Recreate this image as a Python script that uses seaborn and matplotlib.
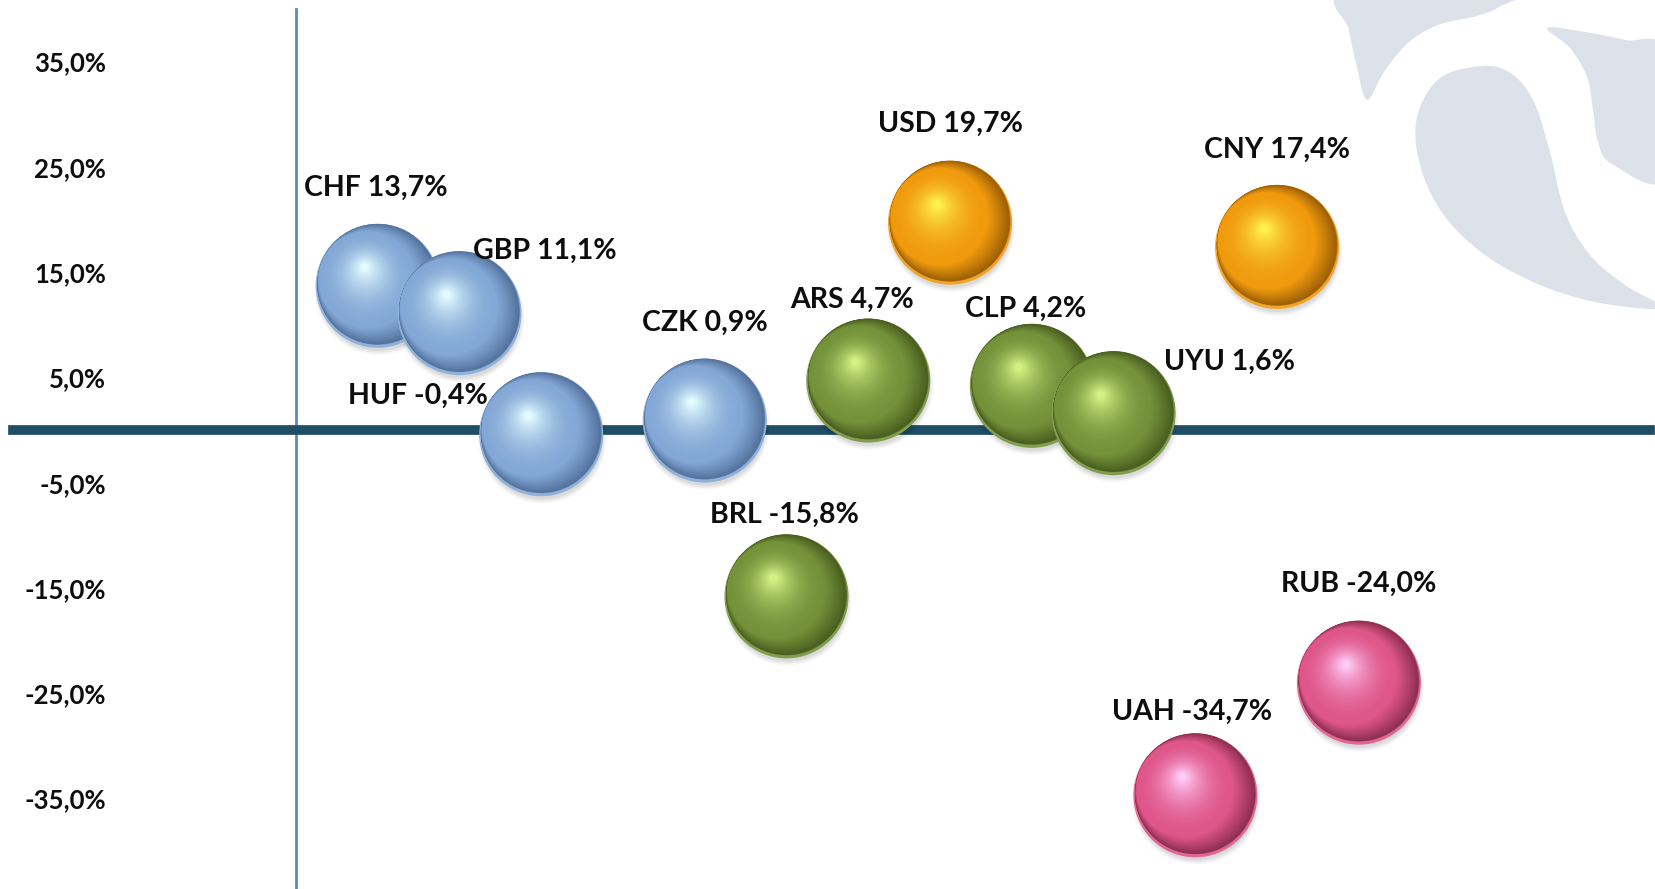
import numpy as np
import pandas as pd
import matplotlib
matplotlib.use("Agg")
import matplotlib.pyplot as plt
import matplotlib.colors as mcolors
from matplotlib.transforms import offset_copy
from matplotlib.patches import Polygon
import seaborn as sns

# data
currencies = ["CHF", "GBP", "HUF", "CZK", "BRL", "ARS", "USD", "CLP", "UYU", "UAH", "CNY", "RUB"]
x_pos = [1, 2, 3, 5, 6, 7, 8, 9, 10, 11, 12, 13]
change = [13.7, 11.1, -0.4, 0.9, -15.8, 4.7, 19.7, 4.2, 1.6, -34.7, 17.4, -24.0]
group = ["eur", "eur", "eur", "eur", "lat", "lat", "maj", "lat", "lat", "cis", "maj", "cis"]
y_ticks = [-35, -25, -15, -5, 5, 15, 25, 35]

# label placement (pixels from bubble centre)
label_offsets = {
    "CHF": (-2, 98), "GBP": (85, 62), "HUF": (-123, 38), "CZK": (0, 98),
    "BRL": (-2, 82), "ARS": (-16, 81), "USD": (0, 99), "CLP": (-6, 77),
    "UYU": (116, 51), "CNY": (0, 97), "UAH": (-3, 83), "RUB": (0, 99),
}

# sphere colours: dark edge, base, highlight
sphere_cols = {
    "eur": ("#34527a", "#84a8d6", "#e2fbff"),
    "lat": ("#2e3d10", "#74923a", "#d2f284"),
    "maj": ("#6a3c00", "#f09a0e", "#fff24c"),
    "cis": ("#5a172c", "#df5689", "#ffcaf6"),
}

df = pd.DataFrame({"cur": currencies, "x": x_pos, "y": change, "group": group})

W, H, DPI = 1655, 889, 100
sns.set_style("white")
plt.rcParams["font.family"] = ["Lato", "DejaVu Sans"]

fig = plt.figure(figsize=(W / DPI, H / DPI), dpi=DPI)
ax = fig.add_axes([13 / W, 0, (1650 - 13) / W, (H - 9) / H])
ax.set_facecolor("none")


# background watermark shapes (figure pixels, y from top)
def smooth(pts, n=14):
    pts = np.asarray(pts, float)
    P = np.vstack([pts[-1], pts, pts[0], pts[1]])
    out = []
    for i in range(1, len(P) - 2):
        p0, p1, p2, p3 = P[i - 1], P[i], P[i + 1], P[i + 2]
        for t in np.linspace(0, 1, n, endpoint=False):
            out.append(0.5 * (2 * p1 + (-p0 + p2) * t + (2 * p0 - 5 * p1 + 4 * p2 - p3) * t ** 2
                              + (-p0 + 3 * p1 - 3 * p2 + p3) * t ** 3))
    out = np.array(out)
    return np.column_stack([out[:, 0] / W, 1 - out[:, 1] / H])


shapes = [
    [(1345, -8), (1349, 30), (1357, 67), (1367, 100), (1384, 72), (1408, 43), (1438, 25),
     (1477, 16), (1499, 7), (1512, -8)],
    [(1483, 66), (1512, 74), (1534, 102), (1550, 152), (1565, 212), (1590, 255), (1625, 285),
     (1662, 308), (1600, 303), (1540, 285), (1485, 255), (1443, 214), (1420, 165), (1417, 117),
     (1440, 78)],
    [(1547, 28), (1585, 32), (1625, 40), (1665, 52), (1665, 178), (1612, 164), (1598, 142),
     (1593, 110), (1587, 77), (1570, 48)],
]
for s in shapes:
    fig.add_artist(Polygon(smooth(s), closed=True, transform=fig.transFigure,
                           facecolor="#dde2ea", edgecolor="none", zorder=-5))

R = 62  # bubble radius in px
S = (2 * R * 72 / DPI) ** 2

# soft shadows under the spheres
for k, a in enumerate([0.04, 0.05, 0.06]):
    sns.scatterplot(data=df, x="x", y="y", s=S * (1.03 - 0.03 * k) ** 2, color="#000000",
                    alpha=a, edgecolor="none", legend=False, ax=ax, zorder=3,
                    transform=offset_copy(ax.transData, fig=fig, x=1, y=-5, units="dots"))


def mix(a, b, t):
    a, b = np.array(mcolors.to_rgb(a)), np.array(mcolors.to_rgb(b))
    return tuple(a + (b - a) * t)


def draw_layer(xv, yv, f, ox, oy, c):
    tr = offset_copy(ax.transData, fig=fig, x=ox * R, y=oy * R, units="dots")
    ax.scatter(xv, yv, s=S * f * f, color=c, edgecolors="none", zorder=4, transform=tr)


NA, NB = 30, 30
for _, row in df.iterrows():
    dark, base, light = sphere_cols[row.group]
    rim = mix(base, "#ffffff", 0.1)
    draw_layer(row.x, row.y, 1.0, 0, 0, rim)
    # dark terminator towards lower right, fading to base colour
    for k in range(NA):
        t = k / (NA - 1)
        f = 0.975 - 0.195 * t
        c = mix(mix(dark, base, 0.35), base, t ** 0.9) if t > 0 else mix(rim, dark, 0.5)
        draw_layer(row.x, row.y, f, -0.17 * t, 0.025 + 0.075 * t, c)
    # soft highlight upper left
    for k in range(1, NB):
        t = k / (NB - 1)
        f = 0.78 - 0.72 * t
        draw_layer(row.x, row.y, f, -0.17 - 0.04 * t, 0.10 + 0.20 * t,
                   mix(base, light, t ** 2.0))

# data labels
for _, row in df.iterrows():
    dx, dy = label_offsets[row.cur]
    txt = f"{row.cur} {row.y:.1f}%".replace(".", ",")
    ax.annotate(txt, (row.x, row.y), xytext=(dx * 0.72, dy * 0.72), textcoords="offset points",
                ha="center", va="center", fontsize=20.5, fontweight="bold", color="#0d0d0d",
                zorder=10)

# axes
ax.set_xlim(-3.46, 16.56)
ax.set_ylim(-43.6, 40)
ax.set_xlabel("")
ax.set_ylabel("")
for side in ["top", "right"]:
    ax.spines[side].set_visible(False)
ax.spines["left"].set_position(("data", 0))
ax.spines["left"].set_color("#5a8ac6")
ax.spines["left"].set_linewidth(2)
ax.spines["bottom"].set_position(("data", 0))
ax.spines["bottom"].set_color("#1f4e66")
ax.spines["bottom"].set_linewidth(7)
ax.set_xticks([])
ax.set_yticks(y_ticks)
ax.set_yticklabels([f"{v:.1f}%".replace(".", ",") for v in y_ticks])
ax.tick_params(axis="y", direction="out", length=6.5, width=2, color="#5a8ac6",
               pad=130, labelsize=18.5, labelcolor="#0d0d0d")
for lab in ax.get_yticklabels():
    lab.set_fontweight("bold")

fig.savefig("out.png", dpi=DPI)
